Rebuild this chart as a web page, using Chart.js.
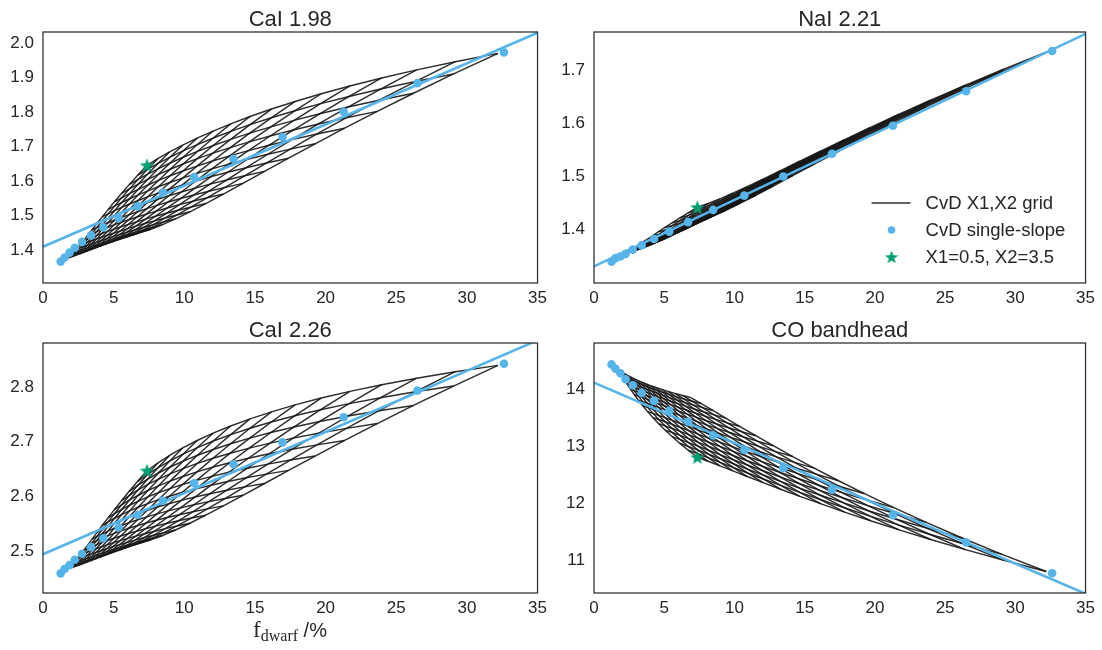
<!DOCTYPE html>
<html>
<head>
<meta charset="utf-8">
<script src="https://cdn.jsdelivr.net/npm/chart.js@4.4.1/dist/chart.umd.min.js"></script>
<style>
  html, body { margin: 0; padding: 0; background: #fff; }
  body { width: 1102px; height: 650px; position: relative; overflow: hidden;
         font-family: "Liberation Sans", Arial, sans-serif; color: #262626; }
  canvas { position: absolute; }
  #xlabel { position: absolute; left: 0; top: 617px; width: 580px; text-align: center; font-size: 20px; }
  #xlabel .m { font-family: "Liberation Serif", "DejaVu Serif", serif; font-size: 23px; }
  #xlabel sub { font-size: 16px; vertical-align: -4px; }
</style>
</head>
<body>
<canvas id="cal198" width="549" height="311" style="left:3px;top:0px"></canvas>
<canvas id="nai221" width="546" height="311" style="left:554px;top:0px"></canvas>
<canvas id="cal226" width="549" height="310" style="left:3px;top:311px"></canvas>
<canvas id="coband" width="546" height="310" style="left:554px;top:311px"></canvas>
<div id="xlabel"><span class="m">f<sub>dwarf</sub></span> /%</div>
<script>
// IMF slopes of the two-part CvD grid (X1 below 0.5 Msun, X2 above)
const slopes = [0.5, 0.7, 0.9, 1.1, 1.3, 1.5, 1.7, 1.9, 2.1, 2.3, 2.5, 2.7, 2.9, 3.1, 3.3, 3.5];

// dwarf fraction (%) of the single-slope models
const fSingle = [1.25, 1.53, 1.88, 2.25, 2.76, 3.40, 4.27, 5.36, 6.70, 8.48, 10.70, 13.48, 16.95, 21.28, 26.50, 32.62];

// dwarf fraction at the grid corners, (X1,X2) = (0.5,0.5), (0.5,3.5), (3.5,0.5), (3.5,3.5)
const fCorners = [1.8, 7.36, 6.89, 32.2];

const xTicks = [0, 5, 10, 15, 20, 25, 30, 35];

// CaI 1.98
const cal198Single = [1.367, 1.379, 1.393, 1.407, 1.424, 1.443, 1.466, 1.493, 1.527, 1.567, 1.612, 1.665, 1.728, 1.801, 1.884, 1.973];
const cal198Corners = [1.378, 1.646, 1.451, 1.970];
const cal198Bends = [-0.011, -0.010, -0.044, -0.100];   // edges X2=0.5, X2=3.5, X1=0.5, X1=3.5
const cal198Fit = [1.410, 2.030];                        // at f = 0 and f = 35
const cal198Ticks = [1.4, 1.5, 1.6, 1.7, 1.8, 1.9, 2.0];
const cal198Range = [1.305, 2.032];

// NaI 2.21
const nai221Single = [1.339, 1.346, 1.349, 1.354, 1.362, 1.370, 1.382, 1.396, 1.414, 1.437, 1.464, 1.500, 1.543, 1.596, 1.661, 1.737];
const nai221Corners = [1.352, 1.442, 1.4095, 1.735];
const nai221Bends = [-0.010, -0.050, -0.018, -0.060];
const nai221Fit = [1.3305, 1.7696];
const nai221Ticks = [1.4, 1.5, 1.6, 1.7];
const nai221Range = [1.299, 1.773];

// CaI 2.26
const cal226Single = [2.459, 2.467, 2.474, 2.484, 2.495, 2.507, 2.523, 2.543, 2.566, 2.592, 2.624, 2.659, 2.699, 2.745, 2.794, 2.843];
const cal226Corners = [2.468, 2.647, 2.515, 2.840];
const cal226Bends = [-0.008, 0.005, -0.030, -0.065];
const cal226Fit = [2.494, 2.886];
const cal226Ticks = [2.5, 2.6, 2.7, 2.8];
const cal226Range = [2.423, 2.881];

// CO bandhead
const coSingle = [14.435, 14.360, 14.279, 14.174, 14.070, 13.936, 13.797, 13.623, 13.431, 13.193, 12.938, 12.619, 12.241, 11.795, 11.319, 10.779];
const coCorners = [14.33, 12.81, 13.855, 10.81];
const coBends = [0.02, 0.25, 0.09, 0.39];
const coFit = [14.116, 10.42];
const coTicks = [11, 12, 13, 14];
const coRange = [10.433, 14.81];

const BLUE = "#56b4e9";
const GREEN = "#009e73";
const GRID = "rgba(22,22,22,0.9)";
const INK = "#262626";

Chart.defaults.font.family = '"Liberation Sans", Arial, sans-serif';
Chart.defaults.color = INK;

// grid nodes: dwarf fraction blends in log space between the corners,
// index values blend between the corners plus a bow on each edge
function meshNodes(corners, bends) {
  const n = slopes.length;
  const span = slopes[n - 1] - slopes[0];
  const lf = fCorners.map(Math.log);
  const bow = (s) => 4 * s * (1 - s);
  const nodes = [];
  for (let i = 0; i < n; i++) {
    const u = (slopes[i] - slopes[0]) / span;
    const row = [];
    for (let j = 0; j < n; j++) {
      const v = (slopes[j] - slopes[0]) / span;
      const w = [(1 - u) * (1 - v), (1 - u) * v, u * (1 - v), u * v];
      const logF = w[0] * lf[0] + w[1] * lf[1] + w[2] * lf[2] + w[3] * lf[3];
      const y = w[0] * corners[0] + w[1] * corners[1] + w[2] * corners[2] + w[3] * corners[3]
        + (1 - v) * bends[0] * bow(u) + v * bends[1] * bow(u)
        + (1 - u) * bends[2] * bow(v) + u * bends[3] * bow(v);
      row.push({ x: Math.exp(logF), y });
    }
    nodes.push(row);
  }
  return nodes;
}

function makeStar(size, color) {
  const c = document.createElement("canvas");
  c.width = size;
  c.height = size;
  const g = c.getContext("2d");
  const r = size / 2, ri = r * 0.42;
  g.beginPath();
  for (let k = 0; k < 10; k++) {
    const a = -Math.PI / 2 + (k * Math.PI) / 5;
    const rad = k % 2 === 0 ? r : ri;
    const px = r + rad * Math.cos(a), py = r + 0.6 + rad * Math.sin(a);
    if (k === 0) g.moveTo(px, py); else g.lineTo(px, py);
  }
  g.closePath();
  g.fillStyle = color;
  g.fill();
  return c;
}

const starMark = makeStar(15, GREEN);
const starLegend = makeStar(14, GREEN);

const framePlugin = {
  id: "frame",
  afterDraw(chart) {
    const { ctx, chartArea: a } = chart;
    ctx.save();
    ctx.strokeStyle = "#333";
    ctx.lineWidth = 1.3;
    ctx.strokeRect(a.left, a.top, a.right - a.left, a.bottom - a.top);
    const title = chart.options.plugins.panelTitle;
    ctx.fillStyle = INK;
    ctx.font = '22px "Liberation Sans", Arial, sans-serif';
    ctx.textAlign = "center";
    ctx.textBaseline = "alphabetic";
    ctx.fillText(title, (a.left + a.right) / 2, a.top - 6);
    ctx.restore();
  },
};

const legendPlugin = {
  id: "gridLegend",
  afterDraw(chart) {
    const { ctx, chartArea: a } = chart;
    const rows = [a.bottom - 80, a.bottom - 53, a.bottom - 26];
    const mx = a.right - 194;
    ctx.save();
    ctx.strokeStyle = GRID;
    ctx.lineWidth = 1.6;
    ctx.beginPath();
    ctx.moveTo(a.right - 214, rows[0]);
    ctx.lineTo(a.right - 175, rows[0]);
    ctx.stroke();
    ctx.fillStyle = BLUE;
    ctx.beginPath();
    ctx.arc(mx, rows[1], 3.8, 0, Math.PI * 2);
    ctx.fill();
    ctx.drawImage(starLegend, mx - 7, rows[2] - 7);
    ctx.fillStyle = INK;
    ctx.font = '18.5px "Liberation Sans", Arial, sans-serif';
    ctx.textAlign = "left";
    ctx.textBaseline = "middle";
    ["CvD X1,X2 grid", "CvD single-slope", "X1=0.5, X2=3.5"].forEach((t, k) => {
      ctx.fillText(t, a.right - 160, rows[k] + 1);
    });
    ctx.restore();
  },
};

function buildPanel(id, title, single, corners, bends, fit, ticks, range, digits, withLegend) {
  const mesh = meshNodes(corners, bends);
  const n = slopes.length;
  const datasets = [
    {
      label: "X1=0.5, X2=3.5",
      data: [{ x: fCorners[1], y: corners[1] }],
      pointStyle: starMark,
      pointRadius: 7,
      order: 0,
    },
    {
      label: "CvD single-slope",
      data: fSingle.map((f, k) => ({ x: f, y: single[k] })),
      backgroundColor: BLUE,
      borderWidth: 0,
      pointRadius: 4.3,
      order: 1,
    },
    {
      label: "single-slope fit",
      data: [{ x: 0, y: fit[0] }, { x: 35, y: fit[1] }],
      showLine: true,
      borderColor: BLUE,
      borderWidth: 2.6,
      pointRadius: 0,
      order: 2,
    },
  ];
  const meshLine = (pts) => ({
    label: "CvD X1,X2 grid",
    data: pts,
    showLine: true,
    borderColor: GRID,
    borderWidth: 1.45,
    pointRadius: 0,
    tension: 0,
    order: 3,
  });
  for (let i = 0; i < n; i++) datasets.push(meshLine(mesh[i]));
  for (let j = 0; j < n; j++) datasets.push(meshLine(mesh.map((row) => row[j])));

  const tickFont = { size: 17 };
  new Chart(document.getElementById(id), {
    type: "scatter",
    data: { datasets },
    options: {
      responsive: false,
      animation: false,
      devicePixelRatio: 1,
      layout: { padding: { top: 32, right: 14, left: 0, bottom: 0 } },
      plugins: { legend: { display: false }, tooltip: { enabled: false }, panelTitle: title },
      scales: {
        x: {
          type: "linear",
          min: 0,
          max: 35,
          grid: { display: false, drawTicks: false },
          border: { display: false },
          ticks: { padding: 5, font: tickFont, color: INK, autoSkip: false, maxRotation: 0, callback: (v) => String(v) },
          afterBuildTicks: (s) => { s.ticks = xTicks.map((v) => ({ value: v })); },
          afterFit: (s) => { s.height = 28; },
        },
        y: {
          type: "linear",
          min: range[0],
          max: range[1],
          grid: { display: false, drawTicks: false },
          border: { display: false },
          ticks: { padding: 9, font: tickFont, color: INK, autoSkip: false, callback: (v) => Number(v).toFixed(digits) },
          afterBuildTicks: (s) => { s.ticks = ticks.map((v) => ({ value: v })); },
          afterFit: (s) => { s.width = 40; },
        },
      },
    },
    plugins: withLegend ? [framePlugin, legendPlugin] : [framePlugin],
  });
}

buildPanel("cal198", "CaI 1.98", cal198Single, cal198Corners, cal198Bends, cal198Fit, cal198Ticks, cal198Range, 1, false);
buildPanel("nai221", "NaI 2.21", nai221Single, nai221Corners, nai221Bends, nai221Fit, nai221Ticks, nai221Range, 1, true);
buildPanel("cal226", "CaI 2.26", cal226Single, cal226Corners, cal226Bends, cal226Fit, cal226Ticks, cal226Range, 1, false);
buildPanel("coband", "CO bandhead", coSingle, coCorners, coBends, coFit, coTicks, coRange, 0, false);
</script>
</body>
</html>
